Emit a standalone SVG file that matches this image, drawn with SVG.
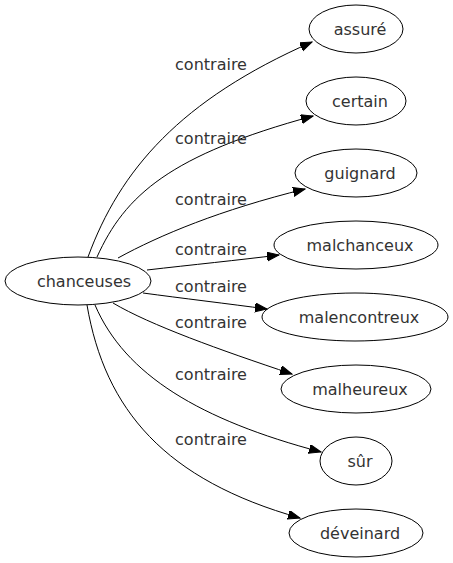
<svg xmlns="http://www.w3.org/2000/svg" width="453" height="563" viewBox="0 0 453 563">
<style>
.n ellipse{fill:none;stroke:#000;stroke-width:1}
.n text{font-family:"DejaVu Sans",sans-serif;font-size:16px;fill:#333;text-anchor:middle}
.e path{fill:none;stroke:#000;stroke-width:1;marker-end:url(#ah)}
.e text{font-family:"DejaVu Sans",sans-serif;font-size:16px;fill:#333;text-anchor:middle}
</style>
<defs>
<marker id="ah" markerUnits="userSpaceOnUse" markerWidth="13" markerHeight="10" refX="12" refY="4.5" orient="auto">
<path d="M0,0 L12,4.5 L0,9 z" fill="#000" stroke="#000" stroke-width="1"/>
</marker>
</defs>
<rect width="453" height="563" fill="#fff"/>
<g id="edges" class="e">
<path d="M88,257 C120,170 180,100 312,42"/>
<text x="211" y="70">contraire</text>
<path d="M97,257 C125,195 170,155 313,116"/>
<text x="211" y="144">contraire</text>
<path d="M118,258 C160,235 220,210 305,189"/>
<text x="211" y="205">contraire</text>
<path d="M147,270 C190,265 240,260 279,255"/>
<text x="211" y="255">contraire</text>
<path d="M143,293 C180,298 230,304 267,309"/>
<text x="211" y="292">contraire</text>
<path d="M113,303 C150,325 220,350 292,374"/>
<text x="211" y="328">contraire</text>
<path d="M95,305 C125,375 200,420 321,452"/>
<text x="211" y="380">contraire</text>
<path d="M87,305 C105,410 165,480 300,518"/>
<text x="211" y="445">contraire</text>
</g>
<g id="chanceuses" class="n"><ellipse cx="78" cy="281" rx="73" ry="24"/><text x="84" y="286.5">chanceuses</text></g>
<g id="assure" class="n"><ellipse cx="356" cy="29" rx="47" ry="24"/><text x="360" y="34.5">assuré</text></g>
<g id="certain" class="n"><ellipse cx="356" cy="101" rx="50" ry="24"/><text x="360" y="106.5">certain</text></g>
<g id="guignard" class="n"><ellipse cx="356" cy="173" rx="61" ry="24"/><text x="360" y="178.5">guignard</text></g>
<g id="malchanceux" class="n"><ellipse cx="356" cy="245" rx="82" ry="24"/><text x="360" y="250.5">malchanceux</text></g>
<g id="malencontreux" class="n"><ellipse cx="355" cy="317" rx="93" ry="24"/><text x="359" y="322.5">malencontreux</text></g>
<g id="malheureux" class="n"><ellipse cx="356" cy="389" rx="75" ry="24"/><text x="360" y="394.5">malheureux</text></g>
<g id="sur" class="n"><ellipse cx="356" cy="461" rx="36" ry="24"/><text x="360" y="466.5">sûr</text></g>
<g id="deveinard" class="n"><ellipse cx="356" cy="533" rx="67" ry="24"/><text x="360" y="538.5">déveinard</text></g>
</svg>
